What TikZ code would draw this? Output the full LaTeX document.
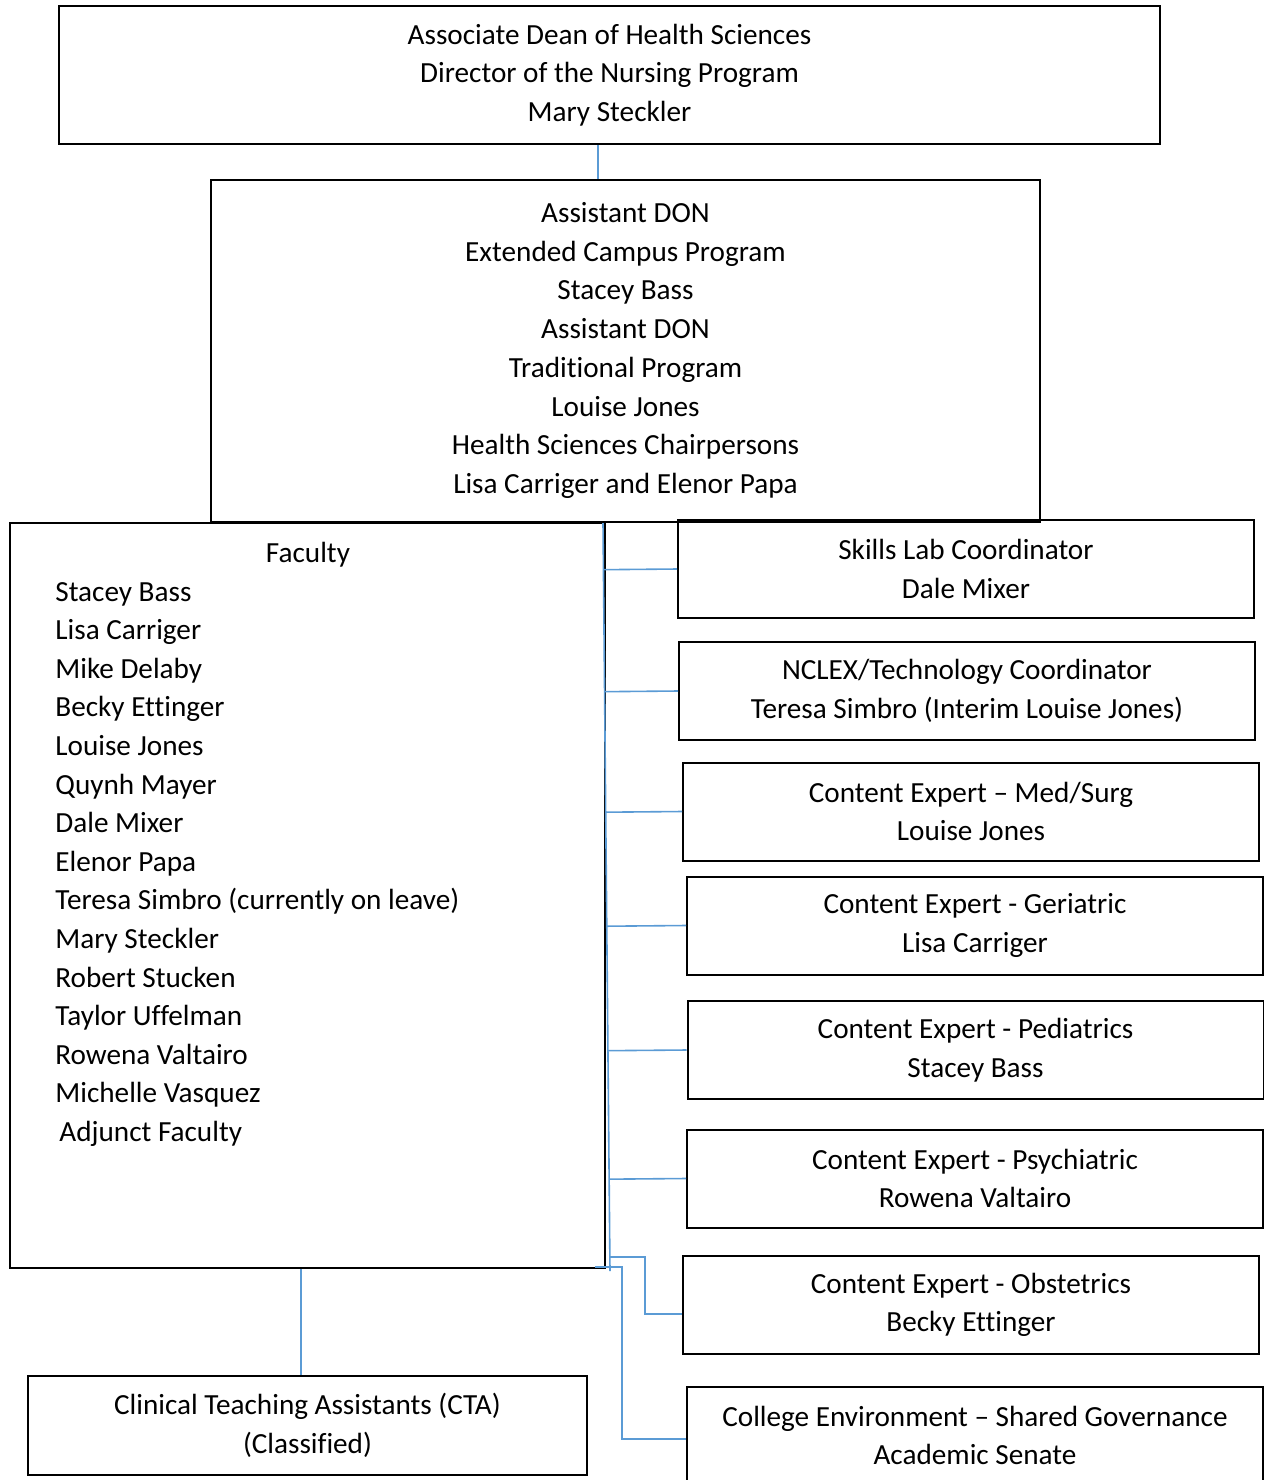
\documentclass[tikz,border=0pt]{standalone}
\usepackage{fontspec}
\setmainfont{Carlito}[Ligatures={NoCommon}]
\usetikzlibrary{calc}
\definecolor{linkblue}{RGB}{91,155,213}
\tikzset{
  orgbox/.style={draw=black, line width=1pt, align=center, inner sep=0pt,
    font=\fontsize{14.6pt}{19.35pt}\selectfont},
  sidebox/.style={orgbox, minimum width=288pt, minimum height=49pt},
  plain/.style={inner sep=0pt, font=\fontsize{14.6pt}{19.35pt}\selectfont},
  link/.style={draw=linkblue, line width=0.8pt}
}
\begin{document}
\begin{tikzpicture}[x=0.5pt, y=-0.5pt]
    \useasboundingbox (0,0) rectangle (1264,1480);
    % top of the chart
    \node[orgbox, minimum width=550.5pt, minimum height=69pt] (dean) at (609.5,75)
      {Associate Dean of Health Sciences\\Director of the Nursing Program\\Mary Steckler};
    \node[orgbox, minimum width=414.5pt, minimum height=171pt] (asst) at (625.5,350.5)
      {Assistant DON\\Extended Campus Program\\Stacey Bass\\Assistant DON\\Traditional Program\\
       Louise Jones\\Health Sciences Chairpersons\\Lisa Carriger and Elenor Papa};
    % faculty list
    \node[orgbox, minimum width=297.5pt, minimum height=372.5pt] (fac) at (307.5,895.5) {};
    \node[plain, anchor=base] (factitle) at (308,562) {Faculty};
    \foreach \who [count=\i] in {Stacey Bass, Lisa Carriger, Mike Delaby, Becky Ettinger,
        Louise Jones, Quynh Mayer, Dale Mixer, Elenor Papa,
        Teresa Simbro (currently on leave), Mary Steckler, Robert Stucken,
        Taylor Uffelman, Rowena Valtairo, Michelle Vasquez}
      \node[plain, anchor=base west] (name\i) at (55,{601+38.6*(\i-1)}) {\who};
    \node[plain, anchor=base west] (adjunct) at (59,1141.4) {Adjunct Faculty};
    % side boxes
    \node[sidebox] (skills) at (966,569) {Skills Lab Coordinator\\Dale Mixer};
    \node[sidebox] (nclex) at (967,691) {NCLEX/Technology Coordinator\\Teresa Simbro (Interim Louise Jones)};
    \node[sidebox] (medsurg) at (971,811.5) {Content Expert -- Med/Surg\\Louise Jones};
    \node[sidebox] (geri) at (975,925.5) {Content Expert - Geriatric\\Lisa Carriger};
    \node[sidebox] (peds) at (975.5,1050) {Content Expert - Pediatrics\\Stacey Bass};
    \node[sidebox] (psych) at (975,1178.5) {Content Expert - Psychiatric\\Rowena Valtairo};
    \node[sidebox] (obst) at (971,1305) {Content Expert - Obstetrics\\Becky Ettinger};
    \node[sidebox] (college) at (975,1435.5) {College Environment -- Shared Governance\\Academic Senate};
    \node[orgbox, minimum width=279.5pt, minimum height=49.5pt] (cta) at (307.5,1425.5)
      {Clinical Teaching Assistants (CTA)\\(Classified)};
    % connectors
    \coordinate (deanlink) at (598,160);
    \coordinate (ctalink) at (301,1320);
    \coordinate (trunktop) at (603,523);
    \coordinate (trunkbot) at (610,1271);
    \coordinate (obfork) at (609,1257);
    \coordinate (colfork) at (595,1267);
    \draw[link] (dean.south -| deanlink) -- (asst.north -| deanlink);
    \draw[link] (fac.south -| ctalink) -- (cta.north -| ctalink);
    \draw[link] (trunktop) -- (trunkbot);
    \foreach \b in {skills, nclex, medsurg, geri, peds, psych}
      \draw[link] ($(trunktop)!(\b.west)!(trunkbot)$) -- (\b.west);
    \draw[link] (obfork) -- ++(36,0) |- ([yshift=-4.5pt]obst.west);
    \draw[link] (colfork) -- ++(27,0) |- ([yshift=-1.75pt]college.west);
\end{tikzpicture}
\end{document}
